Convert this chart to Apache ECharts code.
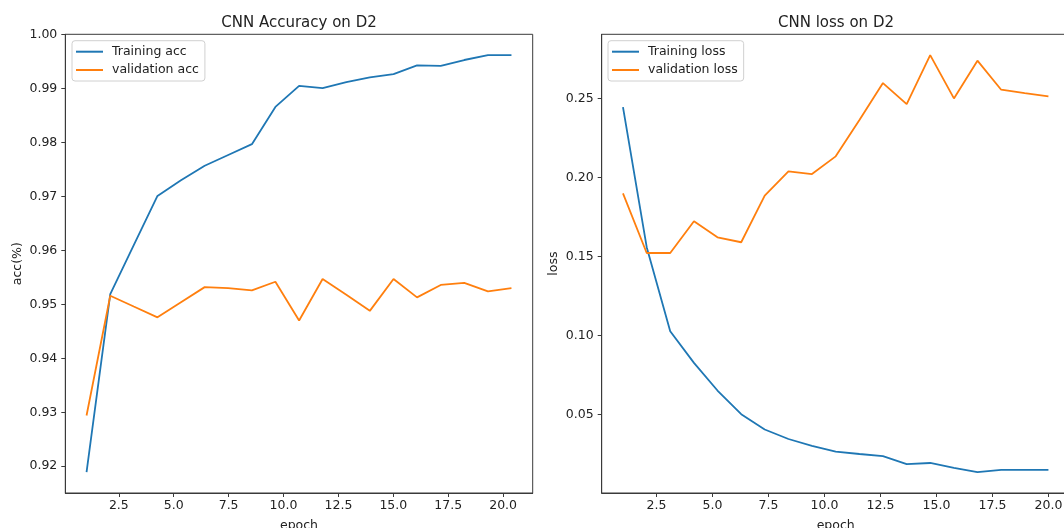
<!DOCTYPE html>
<html>
<head>
<meta charset="utf-8">
<script src="https://cdn.jsdelivr.net/npm/echarts@6/dist/echarts.min.js"></script>
<style>
  html, body { margin: 0; padding: 0; background: #fff; }
  #main { width: 1064px; height: 528px; }
</style>
</head>
<body>
<div id="main"></div>
<script>
// accuracy / loss curves
var accEpochs = [1.03, 2.11, 3.18, 4.26, 5.33, 6.41, 7.48, 8.56, 9.63, 10.71, 11.78, 12.86, 13.93, 15.01, 16.08, 17.16, 18.23, 19.31, 20.38];
var trainAcc = [0.9189, 0.9519, 0.9610, 0.9701, 0.9730, 0.9757, 0.9777, 0.9797, 0.9866, 0.9905, 0.9901, 0.9912, 0.9921, 0.9927, 0.9943, 0.9942, 0.9953, 0.9962, 0.9962];
var valAcc = [0.9294, 0.9516, 0.9496, 0.9476, 0.9504, 0.9532, 0.9530, 0.9526, 0.9542, 0.9470, 0.9547, 0.9518, 0.9488, 0.9547, 0.9513, 0.9536, 0.9540, 0.9524, 0.9530];

var lossEpochs = [1, 2.06, 3.11, 4.17, 5.22, 6.28, 7.33, 8.39, 9.44, 10.5, 11.56, 12.61, 13.67, 14.72, 15.78, 16.83, 17.89, 18.94, 20];
var trainLoss = [0.2447, 0.1560, 0.1027, 0.0827, 0.0652, 0.0502, 0.0405, 0.0345, 0.0302, 0.0265, 0.0250, 0.0236, 0.0186, 0.0193, 0.0162, 0.0135, 0.0150, 0.0150, 0.0150];
var valLoss = [0.1901, 0.1523, 0.1523, 0.1724, 0.1622, 0.1591, 0.1886, 0.2040, 0.2023, 0.2135, 0.2365, 0.2599, 0.2466, 0.2776, 0.2502, 0.2741, 0.2557, 0.2536, 0.2515];

var epochTicks = [2.5, 5.0, 7.5, 10.0, 12.5, 15.0, 17.5, 20.0];
var accTicks = [0.92, 0.93, 0.94, 0.95, 0.96, 0.97, 0.98, 0.99, 1.00];
var lossTicks = [0.05, 0.10, 0.15, 0.20, 0.25];

var FONT = 'DejaVu Sans';
var TEXT = '#222';
var SPINE = '#3a3a3a';
var BLUE = '#1f77b4';
var ORANGE = '#ff7f0e';

function pairs(xs, ys) {
  return xs.map(function (x, i) { return [x, ys[i]]; });
}

// matplotlib style 5% margins
function extent(arrs) {
  var all = [].concat.apply([], arrs);
  var lo = Math.min.apply(null, all);
  var hi = Math.max.apply(null, all);
  var pad = (hi - lo) * 0.05;
  return [lo - pad, hi + pad];
}

function xAxisOf(idx, xs) {
  var ext = extent([xs]);
  return {
    type: 'value',
    gridIndex: idx,
    min: ext[0],
    max: ext[1],
    name: 'epoch',
    nameLocation: 'middle',
    nameGap: 26,
    nameTextStyle: { color: TEXT, fontFamily: FONT, fontSize: 12.5 },
    axisLine: { show: true, onZero: false, lineStyle: { color: SPINE, width: 1 } },
    axisTick: { show: true, length: 4, customValues: epochTicks, lineStyle: { color: SPINE } },
    axisLabel: {
      customValues: epochTicks,
      margin: 6,
      color: TEXT,
      fontFamily: FONT,
      fontSize: 12.5,
      formatter: function (v) { return v.toFixed(1); },
    },
    splitLine: { show: false },
  };
}

function yAxisOf(idx, name, arrs, ticks) {
  var ext = extent(arrs);
  return {
    type: 'value',
    gridIndex: idx,
    min: ext[0],
    max: ext[1],
    name: name,
    nameLocation: 'middle',
    nameGap: 41,
    nameTextStyle: { color: TEXT, fontFamily: FONT, fontSize: 12.5 },
    axisLine: { show: true, onZero: false, lineStyle: { color: SPINE, width: 1 } },
    axisTick: { show: true, length: 4, customValues: ticks, lineStyle: { color: SPINE } },
    axisLabel: {
      customValues: ticks,
      margin: 8,
      color: TEXT,
      fontFamily: FONT,
      fontSize: 12.5,
      formatter: function (v) { return v.toFixed(2); },
    },
    splitLine: { show: false },
  };
}

function legendOf(left, names) {
  return {
    data: names,
    orient: 'vertical',
    left: left,
    top: 40.7,
    padding: [4, 6, 4, 4],
    itemGap: 4.3,
    icon: 'rect',
    itemWidth: 27,
    itemHeight: 2,
    borderColor: '#d0d0d0',
    borderWidth: 1,
    borderRadius: 3,
    backgroundColor: 'rgba(255,255,255,0.8)',
    textStyle: { color: TEXT, fontFamily: FONT, fontSize: 12.5, lineHeight: 14, padding: [0, 0, 0, 4] },
  };
}

function lineOf(name, idx, xs, ys, color) {
  return {
    name: name,
    type: 'line',
    xAxisIndex: idx,
    yAxisIndex: idx,
    symbol: 'none',
    color: color,
    lineStyle: { color: color, width: 1.8 },
    data: pairs(xs, ys),
  };
}

var myChart = echarts.init(document.getElementById('main'), null, { renderer: 'canvas' });
myChart.setOption({
  animation: false,
  backgroundColor: '#fff',
  title: [
    {
      text: 'CNN Accuracy on D2',
      left: 299,
      top: 15.5,
      padding: 0,
      textAlign: 'center',
      textStyle: { color: TEXT, fontFamily: FONT, fontSize: 15, fontWeight: 'normal' },
    },
    {
      text: 'CNN loss on D2',
      left: 836,
      top: 15.5,
      padding: 0,
      textAlign: 'center',
      textStyle: { color: TEXT, fontFamily: FONT, fontSize: 15, fontWeight: 'normal' },
    },
  ],
  legend: [
    legendOf(72, ['Training acc', 'validation acc']),
    legendOf(608, ['Training loss', 'validation loss']),
  ],
  // keep the plot boxes fixed; the epoch names are clipped at the bottom edge like the reference
  grid: [
    { left: 65.3, top: 34.3, width: 467.4, height: 458.7, outerBoundsMode: 'none', show: true, borderColor: SPINE, borderWidth: 1 },
    { left: 601.7, top: 34.3, width: 468, height: 458.7, outerBoundsMode: 'none', show: true, borderColor: SPINE, borderWidth: 1 },
  ],
  xAxis: [xAxisOf(0, accEpochs), xAxisOf(1, lossEpochs)],
  yAxis: [
    yAxisOf(0, 'acc(%)', [trainAcc, valAcc], accTicks),
    yAxisOf(1, 'loss', [trainLoss, valLoss], lossTicks),
  ],
  series: [
    lineOf('Training acc', 0, accEpochs, trainAcc, BLUE),
    lineOf('validation acc', 0, accEpochs, valAcc, ORANGE),
    lineOf('Training loss', 1, lossEpochs, trainLoss, BLUE),
    lineOf('validation loss', 1, lossEpochs, valLoss, ORANGE),
  ],
});
</script>
</body>
</html>
